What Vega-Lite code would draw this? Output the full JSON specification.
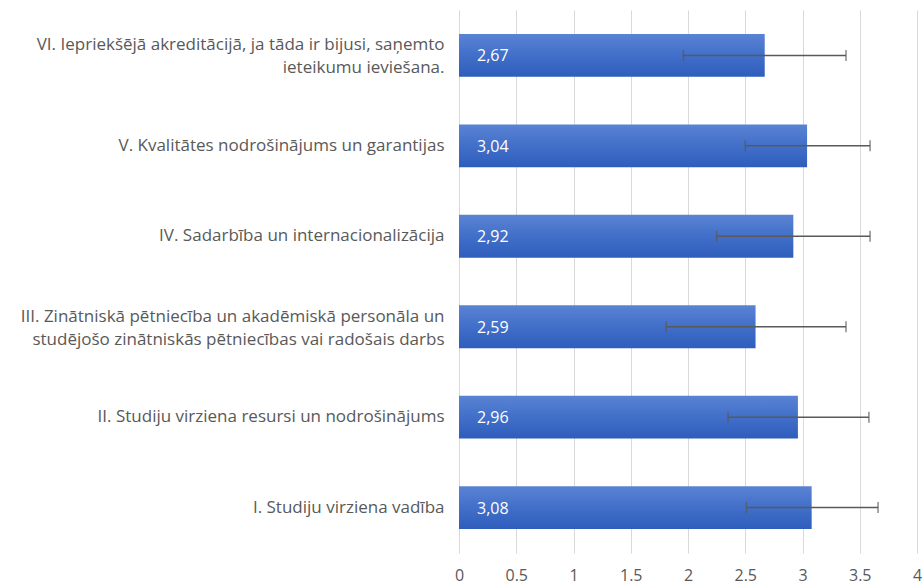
{
  "$schema": "https://vega.github.io/schema/vega-lite/v6.json",
  "autosize": {"type": "none"},
  "width": 458,
  "height": 543,
  "padding": {"left": 459, "top": 10, "right": 5, "bottom": 35},
  "background": "#ffffff",
  "config": {
    "view": {"stroke": null},
    "font": "Open Sans"
  },
  "data": {
    "values": [
      {"criterion": "VI. Iepriekšējā akreditācijā, ja tāda ir bijusi, saņemto|ieteikumu ieviešana.", "mean": 2.67, "lo": 1.96, "hi": 3.38},
      {"criterion": "V. Kvalitātes nodrošinājums un garantijas", "mean": 3.04, "lo": 2.50, "hi": 3.59},
      {"criterion": "IV. Sadarbība un internacionalizācija", "mean": 2.92, "lo": 2.25, "hi": 3.59},
      {"criterion": "III. Zinātniskā pētniecība un akadēmiskā personāla un|studējošo zinātniskās pētniecības vai radošais darbs", "mean": 2.59, "lo": 1.81, "hi": 3.38},
      {"criterion": "II. Studiju virziena resursi un nodrošinājums", "mean": 2.96, "lo": 2.35, "hi": 3.58},
      {"criterion": "I. Studiju virziena vadība", "mean": 3.08, "lo": 2.51, "hi": 3.66}
    ]
  },
  "transform": [
    {"calculate": "replace(format(datum.mean, '.2f'), '.', ',')", "as": "meanText"}
  ],
  "encoding": {
    "y": {
      "field": "criterion",
      "type": "nominal",
      "sort": null,
      "title": null,
      "scale": {"paddingInner": 0.526, "paddingOuter": 0.265},
      "axis": {
        "domain": false,
        "ticks": false,
        "grid": false,
        "labelExpr": "split(datum.label, '|')",
        "labelFontSize": 17,
        "labelColor": "#595959",
        "labelPadding": 15,
        "labelLimit": 0,
        "labelLineHeight": 23,
        "labelAlign": "right",
        "labelOffset": {"condition": {"test": "indexof(datum.value, '|') >= 0", "value": -10}, "value": 0}
      }
    }
  },
  "layer": [
    {
      "mark": {
        "type": "bar",
        "color": {
          "gradient": "linear",
          "x1": 0, "y1": 0, "x2": 0, "y2": 1,
          "stops": [
            {"offset": 0, "color": "#5a83d3"},
            {"offset": 0.5, "color": "#416fc9"},
            {"offset": 1, "color": "#2e5dbc"}
          ]
        }
      },
      "encoding": {
        "x": {
          "field": "mean",
          "type": "quantitative",
          "title": null,
          "scale": {"domain": [0, 4], "nice": false},
          "axis": {
            "values": [0, 0.5, 1, 1.5, 2, 2.5, 3, 3.5, 4],
            "format": "~g",
            "domain": false,
            "ticks": false,
            "grid": true,
            "gridColor": "#d9d9d9",
            "gridWidth": 1,
            "labelFontSize": 16,
            "labelColor": "#595959",
            "labelPadding": 14,
            "labelFlush": false
          }
        }
      }
    },
    {
      "mark": {"type": "text", "align": "left", "baseline": "middle", "dx": 18, "dy": 1, "color": "#ffffff", "fontSize": 16},
      "encoding": {
        "x": {"datum": 0, "type": "quantitative"},
        "text": {"field": "meanText"}
      }
    },
    {
      "mark": {"type": "rule", "color": "#595959", "strokeWidth": 1.5},
      "encoding": {
        "x": {"field": "lo", "type": "quantitative"},
        "x2": {"field": "hi"}
      }
    },
    {
      "mark": {"type": "tick", "color": "#595959", "thickness": 1.5, "size": 11},
      "encoding": {
        "x": {"field": "lo", "type": "quantitative"}
      }
    },
    {
      "mark": {"type": "tick", "color": "#595959", "thickness": 1.5, "size": 11},
      "encoding": {
        "x": {"field": "hi", "type": "quantitative"}
      }
    }
  ]
}
